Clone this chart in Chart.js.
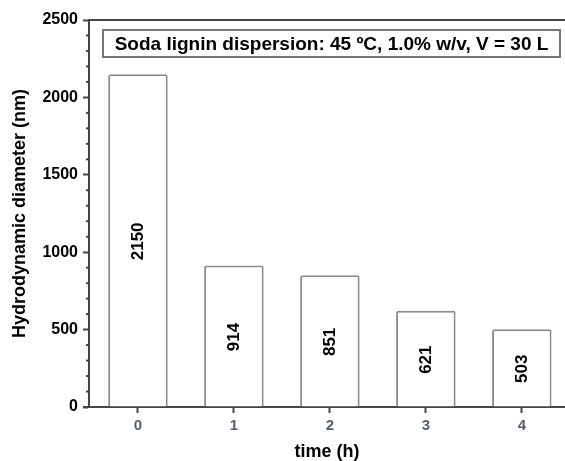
<!DOCTYPE html>
<html>
<head>
    <title>Hydrodynamic diameter</title>
    <script src="https://cdn.jsdelivr.net/npm/chart.js"></script>
    <style>
        body { margin: 0px; background-color: #ffffff; }
        #wrap { width: 565px; height: 461px; }
    </style>
</head>
<body>
    <div id="wrap"><canvas id="myChart"></canvas></div>
<script>
// chart data
const hours = [0, 1, 2, 3, 4];
const diameters = [2150, 914, 851, 621, 503];
const yTickValues = [0, 500, 1000, 1500, 2000, 2500];
const boxText = 'Soda lignin dispersion: 45 \u00baC, 1.0% w/v, V = 30 L';

const fontFamily = '"Liberation Sans", Arial, sans-serif';
const axisColor = '#444444';

// extra drawing: top spine, minor ticks, caption box, value labels
const decorPlugin = {
    id: 'decor',
    afterDatasetsDraw(chart) {
        const ctx = chart.ctx;
        const meta = chart.getDatasetMeta(0);
        ctx.save();
        ctx.fillStyle = '#000000';
        ctx.font = 'bold 17px ' + fontFamily;
        ctx.textAlign = 'center';
        ctx.textBaseline = 'middle';
        meta.data.forEach((bar, i) => {
            ctx.save();
            ctx.translate(bar.x, (bar.y + bar.base) / 2 + 1);
            ctx.rotate(-Math.PI / 2);
            ctx.fillText(String(diameters[i]), 0, 0);
            ctx.restore();
        });
        ctx.restore();
    },
    afterDraw(chart) {
        const ctx = chart.ctx;
        const area = chart.chartArea;
        const yScale = chart.scales.y;
        ctx.save();
        ctx.strokeStyle = axisColor;
        ctx.lineWidth = 2;
        // top spine
        ctx.beginPath();
        ctx.moveTo(area.left, area.top);
        ctx.lineTo(area.right, area.top);
        ctx.stroke();
        // x axis line sticking out left of y axis
        ctx.beginPath();
        ctx.moveTo(area.left - 6, area.bottom);
        ctx.lineTo(area.left, area.bottom);
        ctx.stroke();
        // minor ticks every 100
        for (let v = 100; v < 2500; v += 100) {
            if (v % 500 === 0) continue;
            const y = yScale.getPixelForValue(v);
            ctx.beginPath();
            ctx.moveTo(area.left - 3, y);
            ctx.lineTo(area.left, y);
            ctx.stroke();
        }
        // caption box
        const bx = area.left + 14, by = area.top + 10, bw = 457, bh = 27;
        ctx.fillStyle = '#ffffff';
        ctx.fillRect(bx, by, bw, bh);
        ctx.strokeStyle = '#777777';
        ctx.lineWidth = 2;
        ctx.strokeRect(bx, by, bw, bh);
        ctx.fillStyle = '#000000';
        ctx.font = 'bold 19px ' + fontFamily;
        ctx.textAlign = 'center';
        ctx.textBaseline = 'middle';
        ctx.fillText(boxText, bx + bw / 2, by + bh / 2 + 1);
        ctx.restore();
    }
};

const chartContext = document.getElementById('myChart').getContext('2d');
const barChart = new Chart(chartContext, {
    type: 'bar',
    data: {
        datasets: [{
            data: hours.map((h, i) => ({ x: h, y: diameters[i] })),
            backgroundColor: '#ffffff',
            borderColor: '#8c8c8c',
            borderWidth: 2,
            borderRadius: 2,
            barPercentage: 0.62,
            categoryPercentage: 1
        }]
    },
    options: {
        responsive: true,
        maintainAspectRatio: false,
        animation: false,
        layout: { padding: { top: 20, right: 0, bottom: 0, left: 0 } },
        plugins: {
            legend: { display: false },
            tooltip: { enabled: false }
        },
        scales: {
            x: {
                type: 'linear',
                offset: false,
                min: -0.51,
                max: 4.45,
                afterBuildTicks: (scale) => { scale.ticks = hours.map(v => ({ value: v })); },
                afterFit: (scale) => { scale.height = 54; },
                ticks: {
                    color: '#556070',
                    font: { family: fontFamily, size: 15, weight: 'bold' },
                    padding: 4,
                    callback: (v) => String(v)
                },
                grid: { offset: false, drawOnChartArea: false, tickLength: 6, tickWidth: 2, tickColor: axisColor },
                border: { color: axisColor, width: 2 },
                title: {
                    display: true,
                    text: 'time (h)',
                    color: '#000000',
                    font: { family: fontFamily, size: 18, weight: 'bold', lineHeight: 1 },
                    padding: { top: 0, bottom: 0 }
                }
            },
            y: {
                min: 0,
                max: 2500,
                afterBuildTicks: (scale) => { scale.ticks = yTickValues.map(v => ({ value: v })); },
                afterFit: (scale) => { scale.width = 89; },
                ticks: {
                    color: '#000000',
                    font: { family: fontFamily, size: 16, weight: 'bold' },
                    padding: 5,
                    callback: (v) => String(v)
                },
                grid: { drawOnChartArea: false, tickLength: 6, tickWidth: 2, tickColor: axisColor },
                border: { color: axisColor, width: 2 },
                title: {
                    display: true,
                    text: 'Hydrodynamic diameter (nm)',
                    color: '#000000',
                    font: { family: fontFamily, size: 18, weight: 'bold' },
                    padding: { top: 9, bottom: 0 }
                }
            }
        }
    },
    plugins: [decorPlugin]
});
</script>
</body>
</html>
